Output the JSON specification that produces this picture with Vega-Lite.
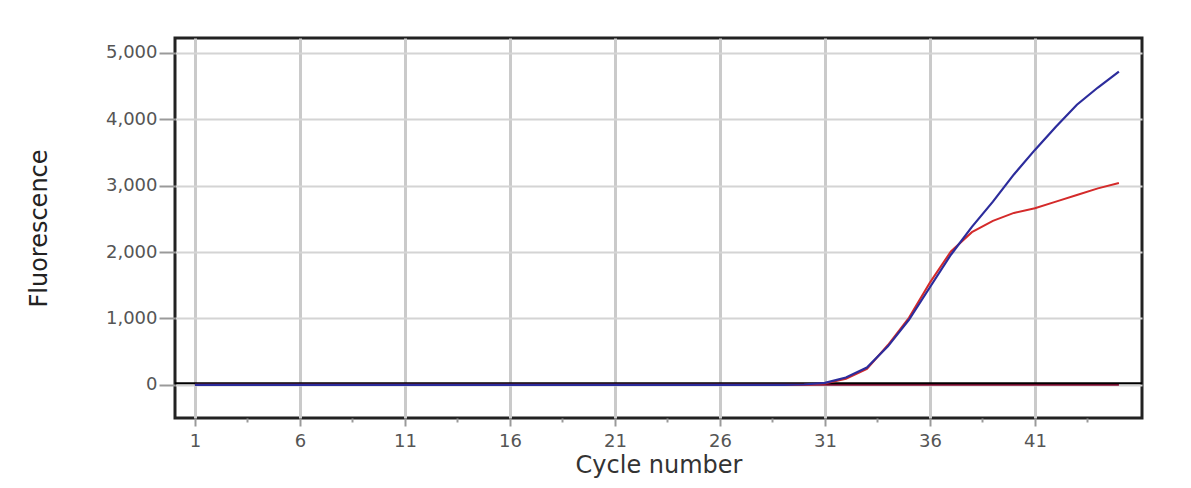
{
  "$schema": "https://vega.github.io/schema/vega-lite/v6.json",
  "width": 967,
  "height": 380,
  "autosize": {"type": "none"},
  "padding": {"left": 175, "top": 38, "right": 49, "bottom": 70},
  "background": "white",
  "config": {"view": {"stroke": "#222222", "strokeWidth": 3}, "font": "DejaVu Sans"},
  "data": {"values": [
    {"cycle": 1, "neg": 0, "red": 0, "blue": 0},
    {"cycle": 2, "neg": 0, "red": 0, "blue": 0},
    {"cycle": 3, "neg": 0, "red": 0, "blue": 0},
    {"cycle": 4, "neg": 0, "red": 0, "blue": 0},
    {"cycle": 5, "neg": 0, "red": 0, "blue": 0},
    {"cycle": 6, "neg": 0, "red": 0, "blue": 0},
    {"cycle": 7, "neg": 0, "red": 0, "blue": 0},
    {"cycle": 8, "neg": 0, "red": 0, "blue": 0},
    {"cycle": 9, "neg": 0, "red": 0, "blue": 0},
    {"cycle": 10, "neg": 0, "red": 0, "blue": 0},
    {"cycle": 11, "neg": 0, "red": 0, "blue": 0},
    {"cycle": 12, "neg": 0, "red": 0, "blue": 0},
    {"cycle": 13, "neg": 0, "red": 0, "blue": 0},
    {"cycle": 14, "neg": 0, "red": 0, "blue": 0},
    {"cycle": 15, "neg": 0, "red": 0, "blue": 0},
    {"cycle": 16, "neg": 0, "red": 0, "blue": 0},
    {"cycle": 17, "neg": 0, "red": 0, "blue": 0},
    {"cycle": 18, "neg": 0, "red": 0, "blue": 0},
    {"cycle": 19, "neg": 0, "red": 0, "blue": 0},
    {"cycle": 20, "neg": 0, "red": 0, "blue": 0},
    {"cycle": 21, "neg": 0, "red": 0, "blue": 0},
    {"cycle": 22, "neg": 0, "red": 0, "blue": 0},
    {"cycle": 23, "neg": 0, "red": 0, "blue": 0},
    {"cycle": 24, "neg": 0, "red": 0, "blue": 0},
    {"cycle": 25, "neg": 0, "red": 0, "blue": 0},
    {"cycle": 26, "neg": 0, "red": 0, "blue": 0},
    {"cycle": 27, "neg": 0, "red": 0, "blue": 0},
    {"cycle": 28, "neg": 0, "red": 0, "blue": 0},
    {"cycle": 29, "neg": 0, "red": 0, "blue": 0},
    {"cycle": 30, "neg": 0, "red": 0, "blue": 5},
    {"cycle": 31, "neg": 0, "red": 20, "blue": 30},
    {"cycle": 32, "neg": 0, "red": 90, "blue": 110},
    {"cycle": 33, "neg": 0, "red": 240, "blue": 260},
    {"cycle": 34, "neg": 0, "red": 600, "blue": 580},
    {"cycle": 35, "neg": 0, "red": 1010, "blue": 980},
    {"cycle": 36, "neg": 0, "red": 1540, "blue": 1470},
    {"cycle": 37, "neg": 0, "red": 2010, "blue": 1960},
    {"cycle": 38, "neg": 0, "red": 2300, "blue": 2380},
    {"cycle": 39, "neg": 0, "red": 2470, "blue": 2760},
    {"cycle": 40, "neg": 0, "red": 2590, "blue": 3170},
    {"cycle": 41, "neg": 0, "red": 2660, "blue": 3540},
    {"cycle": 42, "neg": 0, "red": 2760, "blue": 3890},
    {"cycle": 43, "neg": 0, "red": 2860, "blue": 4220},
    {"cycle": 44, "neg": 0, "red": 2960, "blue": 4480},
    {"cycle": 45, "neg": 0, "red": 3040, "blue": 4720}
  ]},
  "layer": [
    {
      "mark": {"type": "line", "color": "#8a0c36", "strokeWidth": 2},
      "encoding": {
        "x": {
          "field": "cycle", "type": "quantitative", "title": "Cycle number",
          "scale": {"domain": [0.05, 46.1], "nice": false, "zero": false},
          "axis": {
            "values": [1, 3.5, 6, 8.5, 11, 13.5, 16, 18.5, 21, 23.5, 26, 28.5, 31, 33.5, 36, 38.5, 41, 43.5],
            "labelExpr": "(datum.value - 1) % 5 === 0 ? format(datum.value, 'd') : ''",
            "domain": false,
            "grid": true,
            "gridColor": "#cacaca",
            "gridWidth": 3,
            "gridOpacity": {"condition": {"test": "(datum.value - 1) % 5 !== 0", "value": 0}, "value": 1},
            "tickColor": "#9a9a9a",
            "tickWidth": 2,
            "tickSize": {"condition": {"test": "(datum.value - 1) % 5 !== 0", "value": 4}, "value": 8},
            "labelFontSize": 18,
            "labelColor": "#555555",
            "labelPadding": 6,
            "labelOverlap": false,
            "labelFlush": false,
            "titleFontSize": 24,
            "titleFontWeight": "normal",
            "titleColor": "#333333",
            "titlePadding": 3
          }
        },
        "y": {
          "field": "neg", "type": "quantitative", "title": "Fluorescence",
          "scale": {"domain": [-500, 5226], "nice": false, "zero": false},
          "axis": {
            "values": [0, 1000, 2000, 3000, 4000, 5000],
            "format": ",d",
            "domain": false,
            "grid": true,
            "gridColor": "#d4d4d4",
            "gridWidth": 2,
            "tickColor": "#9a9a9a",
            "tickWidth": 2,
            "tickSize": 16,
            "labelFontSize": 18,
            "labelColor": "#555555",
            "labelPadding": 2,
            "labelOverlap": false,
            "labelFlush": false,
            "titleFontSize": 24,
            "titleFontWeight": "normal",
            "titleColor": "#222222",
            "titlePadding": 54
          }
        }
      }
    },
    {
      "data": {"values": [{"threshold": 25}]},
      "mark": {"type": "rule", "color": "#000000", "strokeWidth": 2},
      "encoding": {
        "y": {"field": "threshold", "type": "quantitative", "title": "Fluorescence"}
      }
    },
    {
      "mark": {"type": "line", "color": "#d42a2a", "strokeWidth": 2},
      "encoding": {
        "x": {"field": "cycle", "type": "quantitative", "title": "Cycle number"},
        "y": {"field": "red", "type": "quantitative", "title": "Fluorescence"}
      }
    },
    {
      "mark": {"type": "line", "color": "#2c2c9c", "strokeWidth": 2.2},
      "encoding": {
        "x": {"field": "cycle", "type": "quantitative", "title": "Cycle number"},
        "y": {"field": "blue", "type": "quantitative", "title": "Fluorescence"}
      }
    }
  ]
}
